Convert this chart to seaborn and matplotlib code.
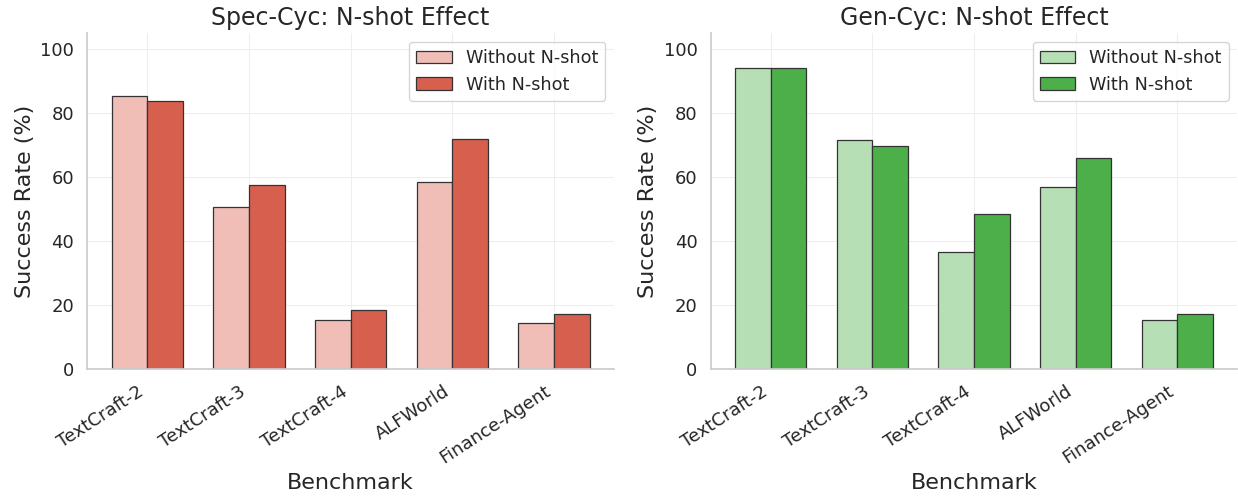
import matplotlib
matplotlib.use("Agg")
import matplotlib.pyplot as plt
import seaborn as sns
import pandas as pd

benchmarks = ["TextCraft-2", "TextCraft-3", "TextCraft-4", "ALFWorld", "Finance-Agent"]
spec_without = [85.3, 50.5, 15.3, 58.3, 14.4]
spec_with = [83.7, 57.4, 18.4, 72.0, 17.2]
gen_without = [94.0, 71.7, 36.5, 56.9, 15.2]
gen_with = [94.0, 69.6, 48.5, 65.8, 17.2]
series_labels = ["Without N-shot", "With N-shot"]

sns.set_theme(style="whitegrid")
plt.rcParams["font.family"] = ["DejaVu Sans"]

fig, axes = plt.subplots(1, 2, figsize=(12.38, 4.96), dpi=100)

panels = [
    ("Spec-Cyc: N-shot Effect", spec_without, spec_with, ["#f0beb7", "#d75f4e"]),
    ("Gen-Cyc: N-shot Effect", gen_without, gen_with, ["#b7dfb5", "#4daf4a"]),
]

for ax, (title, wo, wi, colors) in zip(axes, panels):
    df = pd.DataFrame({
        "Benchmark": benchmarks * 2,
        "Success": wo + wi,
        "Setting": [series_labels[0]] * len(benchmarks) + [series_labels[1]] * len(benchmarks),
    })
    sns.barplot(data=df, x="Benchmark", y="Success", hue="Setting", palette=colors,
                width=0.7, edgecolor="#333333", linewidth=0.9, saturation=1, ax=ax)
    ax.set_xlim(-0.59, 4.59)
    ax.set_ylim(0, 105)
    ax.set_yticks([0, 20, 40, 60, 80, 100])
    ax.set_title(title, fontsize=17)
    ax.set_xlabel("Benchmark", fontsize=16)
    ax.set_ylabel("Success Rate (%)", fontsize=16)
    ax.tick_params(axis="both", labelsize=13)
    plt.setp(ax.get_xticklabels(), rotation=33, ha="right")
    ax.grid(True, color="#eeeeee", linewidth=0.8)
    sns.despine(ax=ax)
    for s in ["left", "bottom"]:
        ax.spines[s].set_color("#cccccc")
    leg = ax.legend(loc="upper right", fontsize=12.7, frameon=True)
    leg.set_title(None)

fig.subplots_adjust(left=0.0705, right=0.9995, top=0.9335, bottom=0.256, wspace=0.1835)
fig.savefig("out.png", dpi=100)
